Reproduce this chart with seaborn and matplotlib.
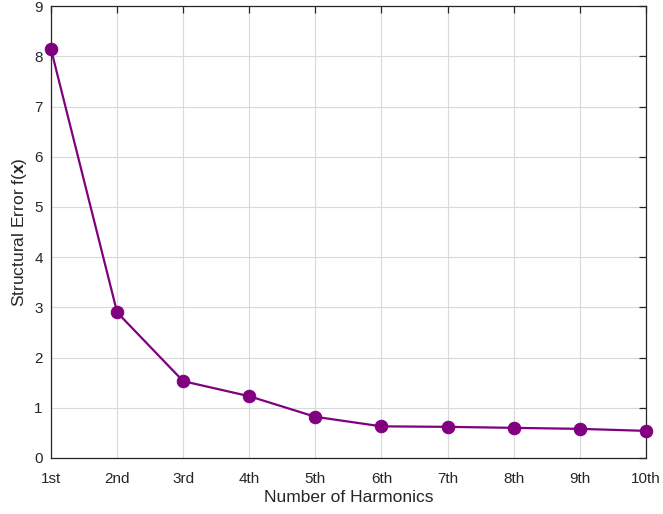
import matplotlib
matplotlib.use("Agg")
import matplotlib.pyplot as plt
import seaborn as sns
import pandas as pd

harmonics = ["1st", "2nd", "3rd", "4th", "5th", "6th", "7th", "8th", "9th", "10th"]
errors = [8.14, 2.90, 1.53, 1.23, 0.82, 0.63, 0.62, 0.60, 0.58, 0.54]
y_ticks = list(range(0, 10))

sns.set_theme(style="white")
plt.rcParams["font.family"] = ["Liberation Sans", "DejaVu Sans"]
plt.rcParams["mathtext.fontset"] = "custom"
plt.rcParams["mathtext.rm"] = "Liberation Sans"
plt.rcParams["mathtext.bf"] = "Liberation Sans:bold"

df = pd.DataFrame({"harmonic": harmonics, "error": errors})

fig = plt.figure(figsize=(6.63, 5.14), dpi=100)
ax = fig.add_axes([0.077, 0.109, 0.897, 0.879])

sns.lineplot(data=df, x="harmonic", y="error", sort=False, ax=ax,
             color="#800080", linewidth=1.6, marker="o", markersize=9,
             markeredgecolor="#800080", clip_on=False, zorder=5)

ax.set_xlim(0, len(harmonics) - 1)
ax.set_ylim(0, 9)
ax.set_yticks(y_ticks)
ax.set_xticks(range(len(harmonics)))
ax.set_xticklabels(harmonics)

ax.grid(True, color="#d9d9d9", linewidth=0.8)
ax.set_axisbelow(True)
for s in ax.spines.values():
    s.set_visible(True)
    s.set_color("#262626")
    s.set_linewidth(0.9)

ax.tick_params(axis="both", direction="in", length=5, width=0.9, colors="#262626",
               labelsize=11, top=True, right=True, labelcolor="#262626")
ax.tick_params(axis="x", pad=10)
ax.tick_params(axis="y", pad=6)

ax.set_xlabel("Number of Harmonics", fontsize=12.5, color="#262626", labelpad=3)
ax.set_ylabel(r"Structural Error f($\mathbf{x}$)", fontsize=12.5, color="#262626", labelpad=4)

fig.savefig("out.png", dpi=100)
